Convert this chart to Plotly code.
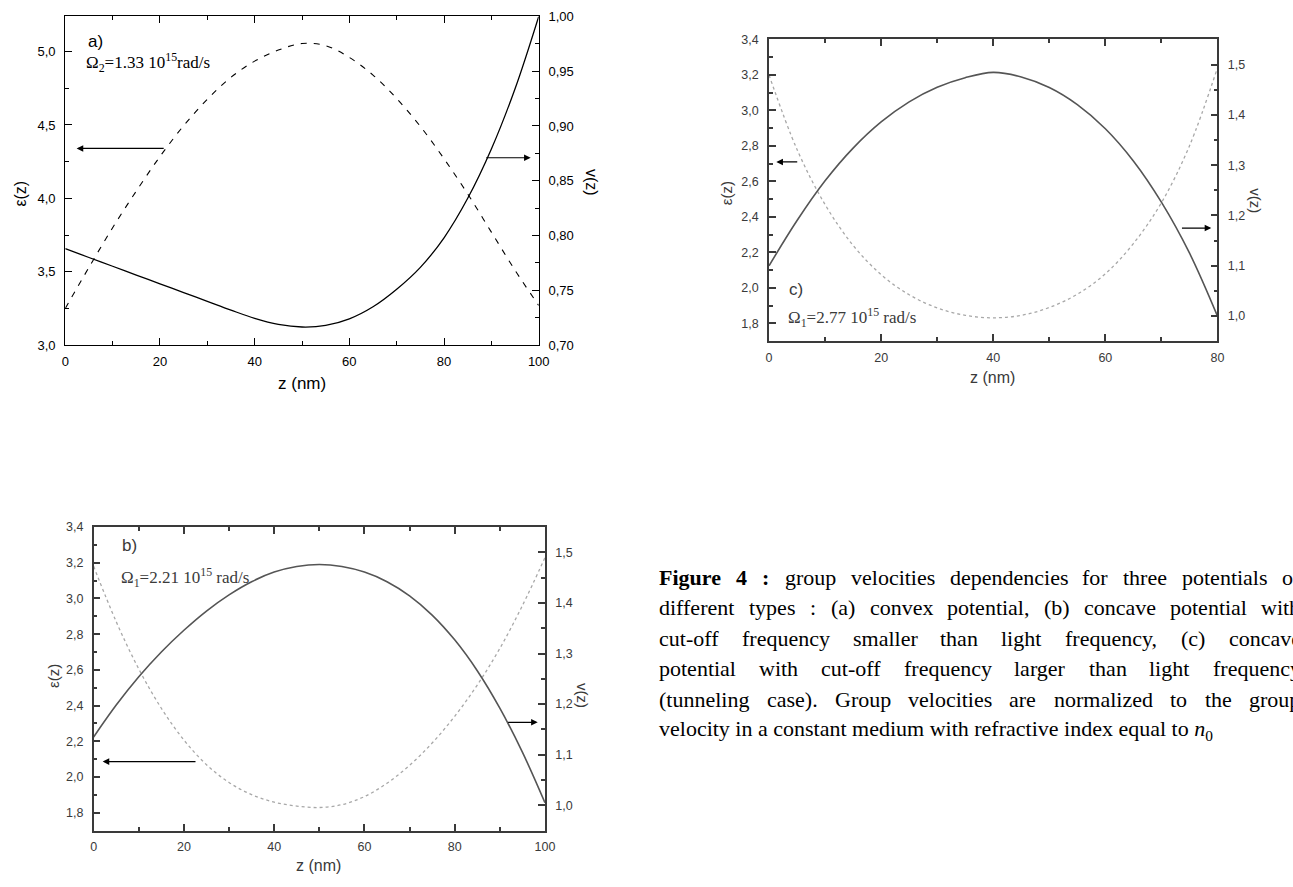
import plotly.graph_objects as go

# ---------------- data ----------------
# panel a (convex potential), z in nm
z_a = [0, 5, 10, 15, 20, 25, 30, 35, 40, 45, 50, 55, 60, 65, 70, 75, 80, 85, 90, 95, 100]
eps_a = [3.25, 3.53, 3.80, 4.05, 4.285, 4.495, 4.675, 4.825, 4.935, 5.01, 5.055, 5.04, 4.96, 4.84, 4.68, 4.49, 4.27, 4.03, 3.77, 3.51, 3.27]
v_a = [0.788, 0.780, 0.772, 0.764, 0.756, 0.748, 0.740, 0.732, 0.7245, 0.719, 0.7166, 0.718, 0.724, 0.735, 0.751, 0.771, 0.798, 0.834, 0.879, 0.934, 1.000]

# panel c (tunneling case)
z_c = [0, 5, 10, 15, 20, 25, 30, 35, 40, 45, 50, 55, 60, 65, 70, 75, 80]
eps_c = [3.20, 2.78, 2.47, 2.24, 2.075, 1.962, 1.888, 1.846, 1.832, 1.846, 1.89, 1.965, 2.08, 2.25, 2.48, 2.80, 3.24]
v_c = [1.100, 1.190, 1.269, 1.334, 1.386, 1.426, 1.455, 1.474, 1.4845, 1.4755, 1.4545, 1.4205, 1.3725, 1.3085, 1.2265, 1.1255, 1.000]

# panel b (concave potential)
z_b = [0, 5, 10, 15, 20, 25, 30, 35, 40, 45, 50, 55, 60, 65, 70, 75, 80, 85, 90, 95, 100]
eps_b = [3.18, 2.87, 2.605, 2.385, 2.207, 2.069, 1.969, 1.901, 1.859, 1.837, 1.829, 1.845, 1.89, 1.965, 2.065, 2.19, 2.34, 2.515, 2.72, 2.96, 3.228]
v_b = [1.135, 1.198, 1.254, 1.303, 1.346, 1.384, 1.416, 1.442, 1.461, 1.472, 1.476, 1.472, 1.461, 1.442, 1.414, 1.376, 1.327, 1.266, 1.192, 1.105, 1.005]

# tick labels
xt_100 = [0, 20, 40, 60, 80, 100]
xt_80 = [0, 20, 40, 60, 80]
yt_a_left = [3.0, 3.5, 4.0, 4.5, 5.0]
yt_a_left_txt = ["3,0", "3,5", "4,0", "4,5", "5,0"]
yt_a_right = [0.70, 0.75, 0.80, 0.85, 0.90, 0.95, 1.00]
yt_a_right_txt = ["0,70", "0,75", "0,80", "0,85", "0,90", "0,95", "1,00"]
yt_bc_left = [1.8, 2.0, 2.2, 2.4, 2.6, 2.8, 3.0, 3.2, 3.4]
yt_bc_left_txt = ["1,8", "2,0", "2,2", "2,4", "2,6", "2,8", "3,0", "3,2", "3,4"]
yt_bc_right = [1.0, 1.1, 1.2, 1.3, 1.4, 1.5]
yt_bc_right_txt = ["1,0", "1,1", "1,2", "1,3", "1,4", "1,5"]

# caption (justified lines; words in ** are bold)
caption_justified = [
    "**Figure** **4** **:** group velocities dependencies for three potentials of",
    "different types : (a) convex potential, (b) concave potential with",
    "cut-off frequency smaller than light frequency, (c) concave",
    "potential with cut-off frequency larger than light frequency",
    "(tunneling case). Group velocities are normalized to the group",
]
caption_last = "velocity in a constant medium with refractive index equal to <i>n</i><sub>0</sub>"

# ---------------- layout helpers ----------------
W, H = 1293, 887


def px(x):
    return x / W


def py(y):
    return 1 - y / H


SANS = "Liberation Sans, Arial, sans-serif"
SERIF = "Liberation Serif, Times New Roman, serif"

fig = go.Figure()

BLACK = "#000000"
GRAY_AX = "#3a3a3a"
GRAY_SOLID = "#555555"
GRAY_DOT = "#a8a8a8"

# panel a
fig.add_trace(go.Scatter(x=z_a, y=eps_a, mode="lines", line=dict(color=BLACK, width=1.1, dash="6px,7px", shape="spline", smoothing=1.0),
                         xaxis="x", yaxis="y", showlegend=False))
fig.add_trace(go.Scatter(x=z_a, y=v_a, mode="lines", line=dict(color=BLACK, width=1.3, shape="spline", smoothing=1.0),
                         xaxis="x", yaxis="y2", showlegend=False))
# panel c
fig.add_trace(go.Scatter(x=z_c, y=eps_c, mode="lines", line=dict(color=GRAY_DOT, width=1.3, dash="dot", shape="spline"),
                         xaxis="x2", yaxis="y3", showlegend=False))
fig.add_trace(go.Scatter(x=z_c, y=v_c, mode="lines", line=dict(color=GRAY_SOLID, width=1.6, shape="spline"),
                         xaxis="x2", yaxis="y4", showlegend=False))
# panel b
fig.add_trace(go.Scatter(x=z_b, y=eps_b, mode="lines", line=dict(color=GRAY_DOT, width=1.3, dash="dot", shape="spline"),
                         xaxis="x3", yaxis="y5", showlegend=False))
fig.add_trace(go.Scatter(x=z_b, y=v_b, mode="lines", line=dict(color=GRAY_SOLID, width=1.6, shape="spline"),
                         xaxis="x3", yaxis="y6", showlegend=False))


def xax(domain, anchor, rng, tv, color, lw, fs, minor_dtick):
    return dict(domain=domain, anchor=anchor, range=rng, tickmode="array", tickvals=tv,
                ticktext=[str(t) for t in tv], ticks="inside", ticklen=7, tickwidth=lw, tickcolor=color,
                ticklabelstandoff=4,
                showline=True, linecolor=color, linewidth=lw, mirror="ticks", showgrid=False, zeroline=False,
                tickfont=dict(family=SANS, size=fs, color=color),
                minor=dict(ticks="inside", ticklen=4, tickcolor=color, tickwidth=lw, dtick=minor_dtick, showgrid=False))


def yax(domain, anchor, rng, tv, tt, color, lw, fs, minor_dtick, side="left", overlaying=None):
    d = dict(domain=domain, anchor=anchor, range=rng, tickmode="array", tickvals=tv, ticktext=tt,
             ticks="inside", ticklen=7, tickwidth=lw, tickcolor=color, side=side, ticklabelstandoff=6,
             showline=True, linecolor=color, linewidth=lw, showgrid=False, zeroline=False,
             tickfont=dict(family=SANS, size=fs, color=color),
             minor=dict(ticks="inside", ticklen=4, tickcolor=color, tickwidth=lw, dtick=minor_dtick, showgrid=False))
    if overlaying:
        d["overlaying"] = overlaying
    return d


dom_a_x = [px(62), px(541)]
dom_a_y = [py(344), py(9.5)]
dom_c_x = [px(774), px(1227.7)]
dom_c_y = [py(340), py(33)]
dom_b_x = [px(90.7), px(547.3)]
dom_b_y = [py(837.7), py(529)]

fig.update_layout(
    width=W, height=H, margin=dict(l=0, r=0, t=0, b=0),
    paper_bgcolor="white", plot_bgcolor="white", showlegend=False,
    xaxis=xax(dom_a_x, "y", [0, 100], xt_100, BLACK, 1.3, 13, 10),
    yaxis=yax(dom_a_y, "x", [3.0, 5.24], yt_a_left, yt_a_left_txt, BLACK, 1.3, 13, 0.25),
    yaxis2=yax(dom_a_y, "x", [0.70, 1.00], yt_a_right, yt_a_right_txt, BLACK, 1.3, 13, 0.025, side="right", overlaying="y"),
    xaxis2=xax(dom_c_x, "y3", [0, 80], xt_80, GRAY_AX, 1.6, 12.5, 10),
    yaxis3=yax(dom_c_y, "x2", [1.7, 3.4], yt_bc_left, yt_bc_left_txt, GRAY_AX, 1.6, 12.5, 0.1),
    yaxis4=yax(dom_c_y, "x2", [0.95, 1.55], yt_bc_right, yt_bc_right_txt, GRAY_AX, 1.6, 12.5, 0.05, side="right", overlaying="y3"),
    xaxis3=xax(dom_b_x, "y5", [0, 100], xt_100, GRAY_AX, 1.6, 12.5, 10),
    yaxis5=yax(dom_b_y, "x3", [1.7, 3.4], yt_bc_left, yt_bc_left_txt, GRAY_AX, 1.6, 12.5, 0.1),
    yaxis6=yax(dom_b_y, "x3", [0.95, 1.55], yt_bc_right, yt_bc_right_txt, GRAY_AX, 1.6, 12.5, 0.05, side="right", overlaying="y5"),
)

ann = []


def text(x, y, s, size, color, family=SANS, angle=0, xanchor="center", yanchor="middle"):
    ann.append(dict(xref="paper", yref="paper", x=px(x), y=py(y), text=s, showarrow=False,
                    font=dict(family=family, size=size, color=color), textangle=angle,
                    xanchor=xanchor, yanchor=yanchor, borderpad=0))


def arrow(xref, yref, x_head, y_head, x_tail, y_tail, color):
    ann.append(dict(xref=xref, yref=yref, axref=xref, ayref=yref, x=x_head, y=y_head, ax=x_tail, ay=y_tail,
                    text="", showarrow=True, arrowhead=2, arrowsize=1.1, arrowwidth=1.2, arrowcolor=color))


# panel a texts
text(301, 383, "z (nm)", 17, BLACK)
text(17, 190, "ε(z)", 16, BLACK, angle=-90)
text(594, 178, "v(z)", 16, BLACK, angle=90)
text(84, 35, "a)", 17, BLACK, xanchor="left")
text(82, 56, "Ω<sub>2</sub>=1.33 10<sup>15</sup>rad/s", 17, BLACK, family=SERIF, xanchor="left")
arrow("x", "y", 2.4, 4.34, 21.1, 4.34, BLACK)
arrow("x", "y2", 98.3, 0.871, 88.6, 0.871, BLACK)

# panel c texts
text(1000, 377, "z (nm)", 16, GRAY_AX)
text(731, 190, "ε(z)", 15, GRAY_AX, angle=-90)
text(1266, 197, "v(z)", 15, GRAY_AX, angle=90)
text(793, 287, "c)", 17, GRAY_AX, xanchor="left")
text(792, 316, "Ω<sub>1</sub>=2.77 10<sup>15</sup> rad/s", 17, GRAY_AX, family=SERIF, xanchor="left")
arrow("x2", "y3", 1.3, 2.71, 5.3, 2.71, BLACK)
arrow("x2", "y4", 78.9, 1.175, 73.4, 1.175, BLACK)

# panel b texts
text(318, 873, "z (nm)", 16, GRAY_AX)
text(50, 680, "ε(z)", 15, GRAY_AX, angle=-90)
text(586, 700, "v(z)", 15, GRAY_AX, angle=90)
text(118, 548, "b)", 17, GRAY_AX, xanchor="left")
text(117, 580, "Ω<sub>1</sub>=2.21 10<sup>15</sup> rad/s", 17, GRAY_AX, family=SERIF, xanchor="left")
arrow("x3", "y5", 2.0, 2.086, 22.9, 2.086, BLACK)
arrow("x3", "y6", 98.4, 1.164, 91.5, 1.164, BLACK)

# ---------------- justified caption ----------------
TIMES = {c: w for c, w in zip("abcdefghijklmnopqrstuvwxyz",
                              [444, 500, 444, 500, 444, 333, 500, 500, 278, 278, 500, 278, 778,
                               500, 500, 500, 500, 333, 389, 278, 500, 500, 722, 500, 500, 444])}
TIMES.update({"G": 722, "F": 556, "(": 333, ")": 333, ",": 250, ".": 250, ":": 278, "-": 333})
TIMES.update({d: 500 for d in "0123456789"})
TIMES_B = dict(TIMES)
TIMES_B.update({"F": 611, "u": 556, "r": 444, ":": 333})

CAP_FS = 22
CAP_X0, CAP_X1 = 662, 1310
CAP_Y0, CAP_DY = 580, 31


def word_width(w, bold):
    tab = TIMES_B if bold else TIMES
    return sum(tab.get(ch, 500) for ch in w) * CAP_FS / 1000.0


for i, line in enumerate(caption_justified):
    words = line.split(" ")
    items = []
    for w in words:
        bold = w.startswith("**")
        clean = w.strip("*")
        items.append((clean, bold, word_width(clean, bold)))
    total = sum(it[2] for it in items)
    gap = (CAP_X1 - CAP_X0 - total) / (len(items) - 1)
    x = CAP_X0
    for clean, bold, ww in items:
        s = "<b>%s</b>" % clean if bold else clean
        text(x, CAP_Y0 + i * CAP_DY, s, CAP_FS, BLACK, family=SERIF, xanchor="left")
        x += ww + gap

text(CAP_X0, CAP_Y0 + 5 * CAP_DY, caption_last, CAP_FS, BLACK, family=SERIF, xanchor="left")

fig.update_layout(annotations=ann)
fig.write_html("out.html")
